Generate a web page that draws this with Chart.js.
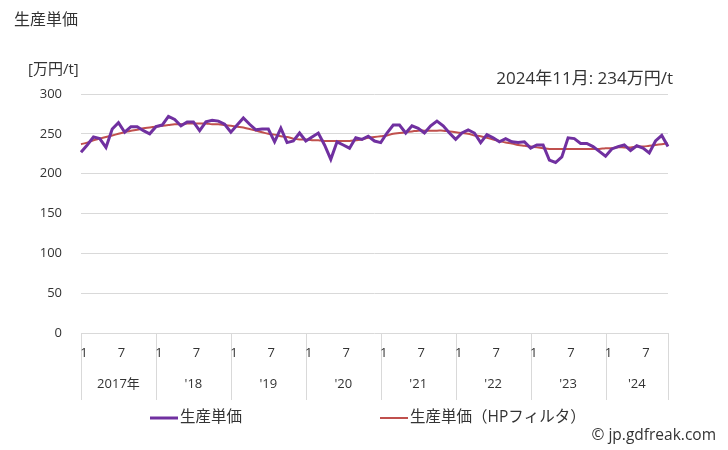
<!DOCTYPE html>
<html><head><meta charset="utf-8">
<script src="https://cdn.jsdelivr.net/npm/chart.js@4.4.1/dist/chart.umd.min.js"></script>
<style>html,body{margin:0;padding:0;background:#fff;}#wrap{width:728px;height:450px;position:relative;}</style>
</head><body><div id="wrap"><canvas id="c" width="728" height="450"></canvas></div>
<script>
const years = ["2017年","'18","'19","'20","'21","'22","'23","'24"];
const monthTickLabels = {0:"1",6:"7"};
const unitPrice = [
 227,236,246,244,233,256,264,252,259,259,254,250,
 259,261,272,268,260,265,265,254,265,267,266,262,
 252,261,270,262,255,256,256,240,257,239,241,251,
 241,246,251,236,218,240,236,232,245,243,247,241,
 239,251,261,261,251,260,257,251,260,266,260,251,
 243,251,255,251,239,249,245,240,244,240,239,240,
 232,236,236,217,214,221,245,244,238,238,234,228,
 222,231,234,236,229,235,232,226,241,248,234
];
const unitPriceHP = [
 237,239,242,244,246,248,250,252,254,255,257,258,
 259,260,261,262,262,263,263,263,263,262,262,261,
 260,259,258,256,254,252,250,249,247,246,244,243,
 243,242,242,241,241,241,241,241,242,243,245,246,
 247,248,250,251,252,253,254,254,254,254,254,253,
 252,251,250,248,247,245,243,241,239,238,236,235,
 234,233,232,231,231,231,231,231,231,231,231,231,
 232,232,233,233,233,234,234,235,236,237,238
];
const yTicks = [0,50,100,150,200,250,300];
const titleText = "生産単価";
const unitText = "[万円/t]";
const latestText = "2024年11月: 234万円/t";
const seriesNames = ["生産単価","生産単価（HPフィルタ）"];
const credit = "© jp.gdfreak.com";

const labels = [];
for (let i = 0; i < unitPrice.length; i++) {
  const y = 2017 + Math.floor(i / 12), m = i % 12 + 1;
  labels.push(y + "-" + m);
}
const FONT = '"Open Sans", "Noto Sans CJK JP", sans-serif';
const PURPLE = '#7030a0', RED = '#c0504d', GRID = '#d9d9d9', TXT = '#333333';

const deco = {
  id: 'deco',
  afterDraw(chart) {
    const ctx = chart.ctx, x = chart.scales.x, ca = chart.chartArea;
    ctx.save();
    ctx.fillStyle = TXT;
    ctx.textBaseline = 'middle';
    ctx.font = '16px "Noto Sans CJK JP", sans-serif'; ctx.textAlign = 'left';
    ctx.fillText(titleText, 14, 19);
    ctx.font = '15px ' + FONT;
    ctx.fillText(unitText, 28, 70);
    ctx.textAlign = 'right';
    ctx.font = '17px ' + FONT;
    ctx.fillText(latestText, 673, 79);
    // x axis labels
    ctx.font = '13px ' + FONT;
    ctx.strokeStyle = GRID; ctx.lineWidth = 1;
    const n = unitPrice.length;
    for (let yi = 0; yi < years.length; yi++) {
      const start = yi * 12;
      const xs = Math.round(x.getPixelForValue(start)) + 0.5;
      ctx.beginPath(); ctx.moveTo(xs, ca.bottom); ctx.lineTo(xs, ca.bottom + 67); ctx.stroke();
      for (const k in monthTickLabels) {
        const idx = start + Number(k);
        if (idx < n) {
          ctx.textAlign = 'center';
          ctx.fillText(monthTickLabels[k], x.getPixelForValue(idx) + 3, ca.bottom + 20);
        }
      }
      const endPix = (start + 12 < n) ? x.getPixelForValue(start + 12) : ca.right;
      ctx.textAlign = 'center';
      ctx.fillText(years[yi], (x.getPixelForValue(start) + endPix) / 2, ca.bottom + 51);
    }
    const xr = Math.round(ca.right) + 0.5;
    ctx.beginPath(); ctx.moveTo(xr, ca.bottom); ctx.lineTo(xr, ca.bottom + 67); ctx.stroke();
    // legend
    ctx.font = '15.5px ' + FONT; ctx.textAlign = 'left';
    ctx.lineWidth = 3; ctx.strokeStyle = PURPLE;
    ctx.beginPath(); ctx.moveTo(150, 418); ctx.lineTo(178, 418); ctx.stroke();
    ctx.fillText(seriesNames[0], 180, 418);
    ctx.lineWidth = 2; ctx.strokeStyle = RED;
    ctx.beginPath(); ctx.moveTo(380, 418); ctx.lineTo(408, 418); ctx.stroke();
    ctx.fillText(seriesNames[1], 410, 418);
    ctx.font = '15.5px ' + FONT; ctx.textAlign = 'right';
    ctx.fillText(credit, 716, 436);
    ctx.restore();
  }
};

new Chart(document.getElementById('c'), {
  type: 'line',
  data: {
    labels: labels,
    datasets: [
      { label: seriesNames[1], data: unitPriceHP, borderColor: RED, borderWidth: 2, pointRadius: 0, tension: 0.4, order: 2 },
      { label: seriesNames[0], data: unitPrice, borderColor: PURPLE, borderWidth: 3, pointRadius: 0, tension: 0, order: 1 }
    ]
  },
  options: {
    responsive: false, animation: false,
    layout: { padding: { left: 0, right: 60, top: 94, bottom: 117 } },
    plugins: { legend: { display: false }, tooltip: { enabled: false } },
    scales: {
      x: { type: 'category', display: false, offset: false },
      y: {
        min: 0, max: 300,
        afterFit(s) { s.width = 81; },
        afterBuildTicks(s) { s.ticks = yTicks.map(v => ({ value: v })); },
        border: { display: false },
        grid: { color: GRID, drawTicks: false },
        ticks: { padding: 19, color: TXT, font: { family: FONT, size: 13 } }
      }
    }
  },
  plugins: [deco]
});
</script></body></html>
